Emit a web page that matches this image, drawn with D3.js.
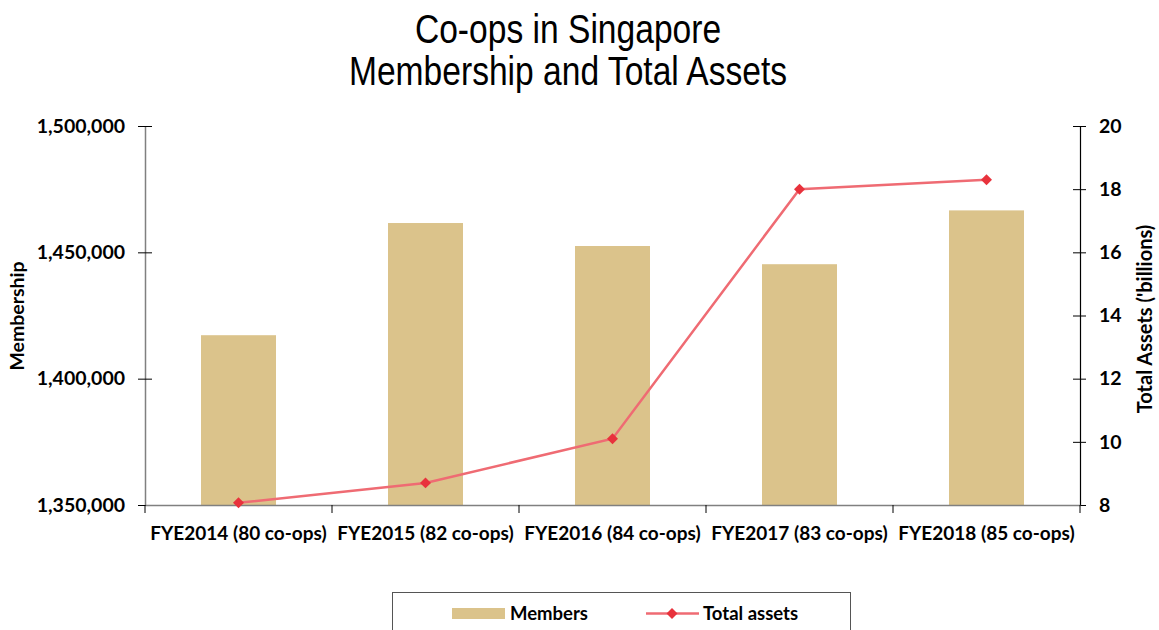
<!DOCTYPE html>
<html><head><meta charset="utf-8">
<script src="https://cdn.jsdelivr.net/npm/d3@7"></script>
<style>body{margin:0;background:#fff}svg{display:block}</style>
</head><body>
<svg id="chart" width="1159" height="630"></svg>
<script>
const categories = ["FYE2014 (80 co-ops)","FYE2015 (82 co-ops)","FYE2016 (84 co-ops)","FYE2017 (83 co-ops)","FYE2018 (85 co-ops)"];
const members = [1417200, 1461600, 1452500, 1445300, 1466600];
const totalAssets = [8.07, 8.7, 10.1, 18.0, 18.3];
const leftTicks = [1350000, 1400000, 1450000, 1500000];
const rightTicks = [8, 10, 12, 14, 16, 18, 20];
const titleLines = ["Co-ops in Singapore", "Membership and Total Assets"];

const svg = d3.select("#chart");
const L = 145, R = 1080, T = 126, B = 505;
const labelFont = "Lato, 'Open Sans', sans-serif";

const xb = d3.scaleBand().domain(categories).range([L, R]);
const yL = d3.scaleLinear().domain([1350000, 1500000]).range([B, T]);
const yR = d3.scaleLinear().domain([8, 20]).range([B, T]);

// title (narrow face emulated by horizontal compression)
svg.append("g").selectAll("text").data(titleLines).join("text")
  .attr("transform", (d,i)=>`translate(568,${43 + i*42}) scale(0.84,1)`)
  .attr("text-anchor","middle")
  .attr("font-family","'Liberation Sans', Arial, sans-serif")
  .attr("font-size", 40).attr("fill","#000").text(d=>d);

// bars
svg.append("g").selectAll("rect").data(categories).join("rect")
  .attr("x", d=>xb(d) + xb.bandwidth()/2 - 37.5)
  .attr("width", 75)
  .attr("y", (d,i)=>yL(members[i]))
  .attr("height", (d,i)=>B - yL(members[i]))
  .attr("fill","#DBC38B");

// left axis
const la = svg.append("g").attr("transform",`translate(${L},0)`)
  .call(d3.axisLeft(yL).tickValues(leftTicks).tickFormat(d3.format(",")).tickSizeInner(7).tickSizeOuter(0).tickPadding(13));
la.select(".domain").attr("stroke","#808080").attr("stroke-width",1.5);
la.selectAll(".tick line").attr("stroke","#000").attr("x2",7).attr("x1",-7);
la.selectAll("text").attr("font-family",labelFont).attr("font-weight","bold").attr("font-size",19.5).attr("fill","#000");

// right axis
const ra = svg.append("g").attr("transform",`translate(${R},0)`)
  .call(d3.axisRight(yR).tickValues(rightTicks).tickSizeInner(7).tickSizeOuter(0).tickPadding(12));
ra.select(".domain").attr("stroke","#000").attr("stroke-width",1.2);
ra.selectAll(".tick line").attr("stroke","#000").attr("x1",-7).attr("x2",6);
ra.selectAll("text").attr("font-family",labelFont).attr("font-weight","bold").attr("font-size",19.5).attr("fill","#000");

// x axis
const xa = svg.append("g").attr("transform",`translate(0,${B})`)
  .call(d3.axisBottom(xb).tickSize(0).tickPadding(22));
xa.select(".domain").attr("stroke","#808080").attr("stroke-width",1.5);
xa.selectAll("text").attr("font-family",labelFont).attr("font-weight","bold").attr("font-size",19).attr("fill","#000");
const bounds = categories.map(c=>xb(c)).concat([R]);
xa.append("g").selectAll("line").data(bounds).join("line")
  .attr("x1",d=>d).attr("x2",d=>d).attr("y1",0).attr("y2",8).attr("stroke","#000");

// line
const line = d3.line().x((d,i)=>xb(categories[i]) + xb.bandwidth()/2).y(d=>yR(d));
svg.append("path").datum(totalAssets).attr("d", line)
  .attr("fill","none").attr("stroke","#EF6B73").attr("stroke-width",2.5);
svg.append("g").selectAll("path").data(totalAssets).join("path")
  .attr("transform",(d,i)=>`translate(${xb(categories[i]) + xb.bandwidth()/2},${yR(d)}) rotate(45)`)
  .attr("d", d3.symbol().type(d3.symbolSquare).size(60))
  .attr("fill","#E8323C");

// axis titles
svg.append("text").attr("transform","translate(24,316) rotate(-90)")
  .attr("text-anchor","middle").attr("font-family",labelFont).attr("font-weight","bold").attr("font-size",19.5)
  .text("Membership");
svg.append("text").attr("transform","translate(1152,319) rotate(-90)")
  .attr("text-anchor","middle").attr("font-family",labelFont).attr("font-weight","bold").attr("font-size",20)
  .text("Total Assets ('billions)");

// legend
const lg = svg.append("g");
lg.append("rect").attr("x",392.5).attr("y",592.5).attr("width",458).attr("height",60)
  .attr("fill","none").attr("stroke","#555").attr("stroke-width",1);
lg.append("rect").attr("x",452).attr("y",608).attr("width",53).attr("height",11).attr("fill","#DBC38B");
lg.append("text").attr("x",510).attr("y",620).attr("font-family",labelFont).attr("font-weight","bold").attr("font-size",18.5).text("Members");
lg.append("line").attr("x1",646).attr("x2",699).attr("y1",613.5).attr("y2",613.5).attr("stroke","#EF6B73").attr("stroke-width",2.5);
lg.append("path").attr("transform","translate(672,613.5) rotate(45)")
  .attr("d", d3.symbol().type(d3.symbolSquare).size(60)).attr("fill","#E8323C");
lg.append("text").attr("x",703).attr("y",620).attr("font-family",labelFont).attr("font-weight","bold").attr("font-size",18.5).text("Total assets");
</script>
</body></html>
